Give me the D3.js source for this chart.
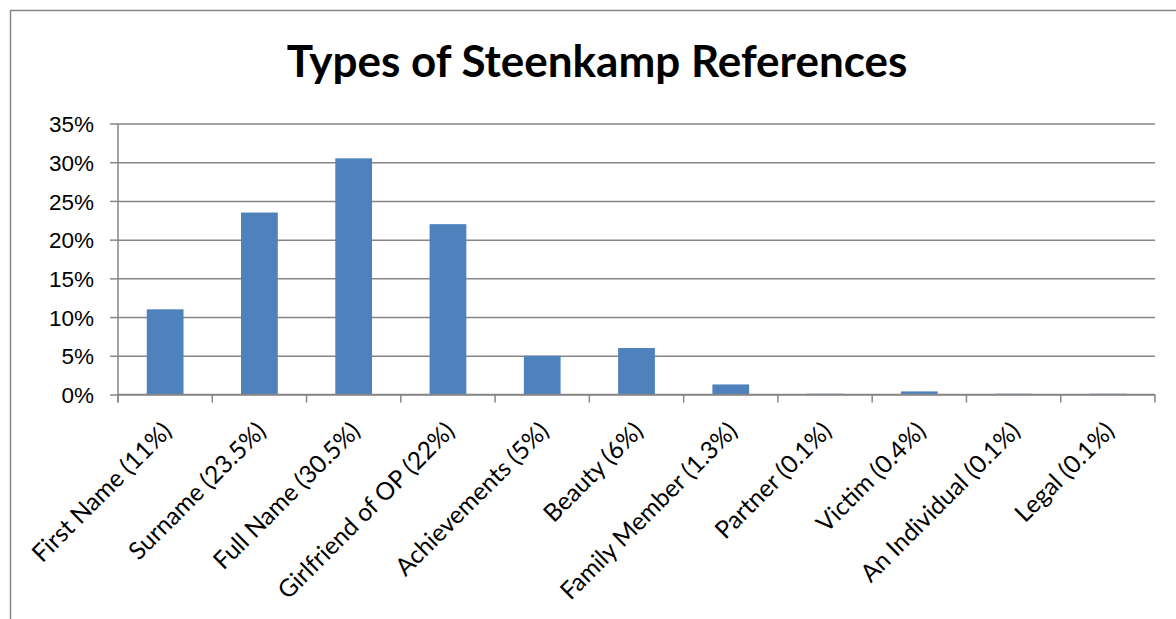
<!DOCTYPE html>
<html>
<head>
<meta charset="utf-8">
<script src="https://cdn.jsdelivr.net/npm/d3@7"></script>
<style>
  body { margin: 0; background: #fff; }
  svg { display: block; font-family: Lato, "Open Sans", sans-serif; }
</style>
</head>
<body>
<div id="chart"></div>
<script>
const categories = ["First Name (11%)", "Surname (23.5%)", "Full Name (30.5%)", "Girlfriend of OP (22%)",
  "Achievements (5%)", "Beauty (6%)", "Family Member (1.3%)", "Partner (0.1%)", "Victim (0.4%)",
  "An Individual (0.1%)", "Legal (0.1%)"];
const values = [0.11, 0.235, 0.305, 0.22, 0.05, 0.06, 0.013, 0.001, 0.004, 0.001, 0.001];
const yTicks = [0, 0.05, 0.10, 0.15, 0.20, 0.25, 0.30, 0.35];

const width = 1176, height = 619;
const margin = { top: 123.5, right: 21, bottom: 224.5, left: 118 };
const gridColor = "#868686";

const svg = d3.select("#chart").append("svg")
  .attr("width", width)
  .attr("height", height);

// outer chart border (left + top only visible)
svg.append("path")
  .attr("d", `M10.5,${height} L10.5,10.5 L${width},10.5`)
  .attr("fill", "none")
  .attr("stroke", gridColor)
  .attr("stroke-width", 1.5);

svg.append("text")
  .attr("x", 597)
  .attr("y", 77)
  .attr("text-anchor", "middle")
  .style("font-size", "44px")
  .style("font-weight", "bold")
  .text("Types of Steenkamp References");

const x = d3.scaleBand()
  .domain(categories)
  .range([margin.left, width - margin.right])
  .paddingInner(0.61)
  .paddingOuter(0.305);

const xEdge = d3.scaleLinear()
  .domain([0, categories.length])
  .range([margin.left, width - margin.right]);

const y = d3.scaleLinear()
  .domain([0, 0.35])
  .range([height - margin.bottom, margin.top]);

// gridlines + y ticks
const yAxis = svg.append("g")
  .attr("transform", `translate(${margin.left},0)`)
  .call(d3.axisLeft(y).tickValues(yTicks).tickFormat(d3.format(".0%"))
    .tickSize(8).tickPadding(16));
yAxis.select(".domain").remove();
yAxis.selectAll(".tick line").attr("stroke", gridColor).attr("stroke-width", 1.5);
yAxis.selectAll(".tick text")
  .attr("fill", "#000")
  .attr("dy", "0.36em")
  .style("font-size", "22.5px");
yAxis.selectAll(".tick").append("line")
  .attr("x1", 0)
  .attr("x2", width - margin.right - margin.left)
  .attr("stroke", gridColor)
  .attr("stroke-width", 1.5);

// y axis line
svg.append("line")
  .attr("x1", margin.left).attr("x2", margin.left)
  .attr("y1", margin.top).attr("y2", y(0) + 8)
  .attr("stroke", gridColor)
  .attr("stroke-width", 1.5);

// bars
svg.append("g")
  .selectAll("rect")
  .data(values)
  .join("rect")
  .attr("x", (d, i) => x(categories[i]))
  .attr("width", x.bandwidth())
  .attr("y", d => y(d))
  .attr("height", d => y(0) - y(d))
  .attr("fill", "#4F81BD");

// x axis line + boundary ticks
svg.append("line")
  .attr("x1", margin.left).attr("x2", width - margin.right)
  .attr("y1", y(0)).attr("y2", y(0))
  .attr("stroke", gridColor)
  .attr("stroke-width", 1.5);
svg.append("g")
  .selectAll("line")
  .data(d3.range(categories.length + 1))
  .join("line")
  .attr("x1", d => xEdge(d)).attr("x2", d => xEdge(d))
  .attr("y1", y(0)).attr("y2", y(0) + 8)
  .attr("stroke", gridColor)
  .attr("stroke-width", 1.5);

// rotated category labels
svg.append("g")
  .selectAll("text")
  .data(categories)
  .join("text")
  .attr("transform", d => `translate(${x(d) + x.bandwidth() / 2 + 2},${y(0) + 32}) rotate(-45)`)
  .attr("text-anchor", "end")
  .attr("dy", "0.35em")
  .style("font-size", "24.5px")
  .text(d => d);
</script>
</body>
</html>
